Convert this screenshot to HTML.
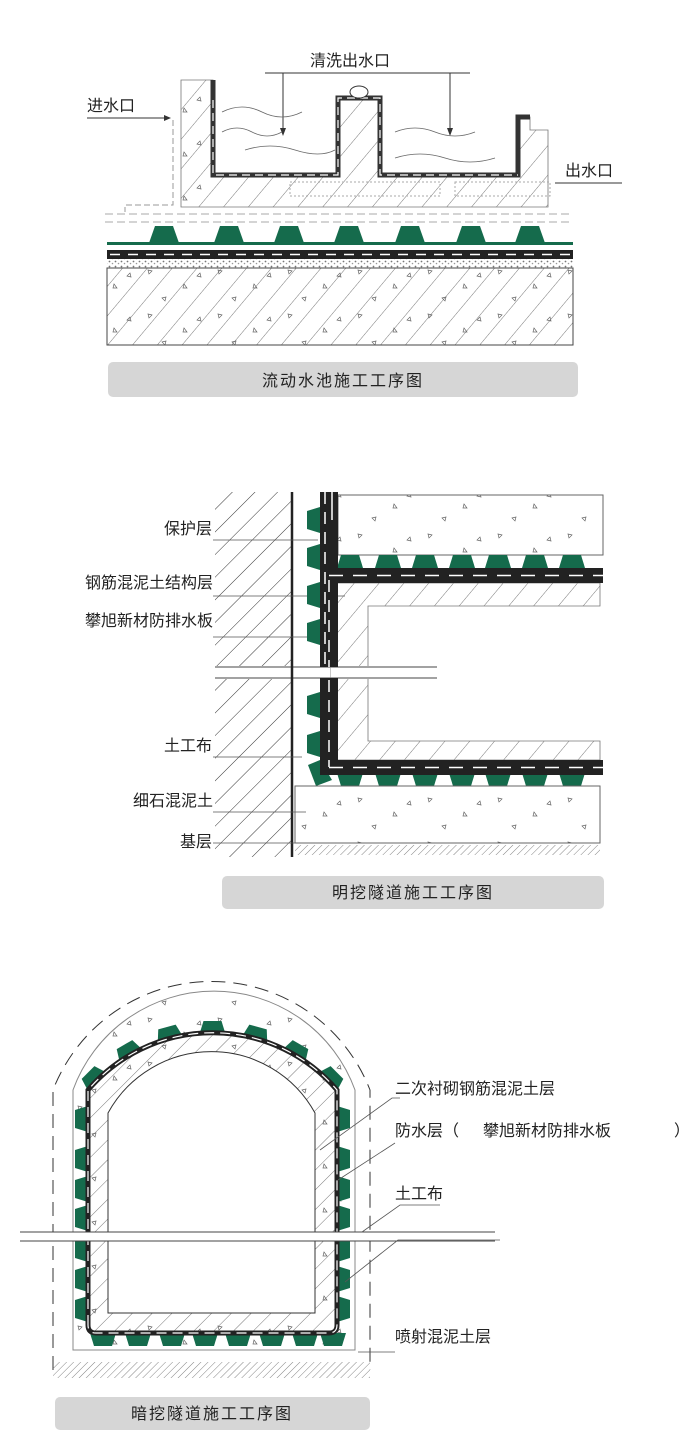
<!DOCTYPE html>
<html><head><meta charset="utf-8"><style>
html,body{margin:0;padding:0;background:#fff}
svg{display:block}
text{font-family:"Liberation Sans","Noto Sans CJK SC",sans-serif;fill:#222}
</style></head><body>
<svg width="700" height="1454" viewBox="0 0 700 1454" xmlns="http://www.w3.org/2000/svg">
<defs>
<pattern id="h" width="14" height="14" patternUnits="userSpaceOnUse" patternTransform="rotate(45)">
<line x1="0" y1="0" x2="0" y2="14" stroke="#555" stroke-width="0.8"/></pattern>
<pattern id="h2" width="19" height="19" patternUnits="userSpaceOnUse" patternTransform="rotate(40)">
<line x1="0" y1="0" x2="0" y2="19" stroke="#555" stroke-width="0.8"/></pattern>
<pattern id="hd" width="5" height="5" patternUnits="userSpaceOnUse" patternTransform="rotate(45)">
<line x1="0" y1="0" x2="0" y2="5" stroke="#666" stroke-width="0.8"/></pattern>
<pattern id="hw" width="16" height="16" patternUnits="userSpaceOnUse" patternTransform="rotate(45)">
<line x1="0" y1="0" x2="0" y2="16" stroke="#333" stroke-width="1"/></pattern>
<pattern id="tri" width="70" height="44" patternUnits="userSpaceOnUse">
<path d="M8 6l4 1-3 3zM44 20l3 4-4 0zM22 34l4-1-1 4zM60 9l-3 3 4 1z" fill="none" stroke="#666" stroke-width="0.7"/></pattern>
<pattern id="grav" width="6" height="5" patternUnits="userSpaceOnUse">
<circle cx="1.5" cy="1.5" r="0.9" fill="#777"/><circle cx="4.5" cy="3.5" r="0.8" fill="#999"/></pattern>
<g id="bu"><polygon points="-15,0 -9,-17 9,-17 15,0" fill="#156b4c"/></g>
<g id="bs"><polygon points="-13,0 -9,-13 9,-13 13,0" fill="#156b4c"/></g>
</defs>

<!-- ===== Diagram 1 ===== -->
<text x="310" y="66" font-size="16">清洗出水口</text>
<line x1="265" y1="73" x2="470" y2="73" stroke="#333"/>
<line x1="283" y1="73" x2="283" y2="130" stroke="#333"/><polygon points="280,128 286,128 283,136" fill="#333"/>
<line x1="450" y1="73" x2="450" y2="130" stroke="#333"/><polygon points="447,128 453,128 450,136" fill="#333"/>
<text x="87" y="111" font-size="16">进水口</text>
<line x1="87" y1="118" x2="166" y2="118" stroke="#333"/><polygon points="164,115 171,118 164,121" fill="#333"/>
<text x="565" y="176" font-size="16">出水口</text>
<line x1="555" y1="183" x2="622" y2="183" stroke="#333"/>

<path d="M181,80 H213 V175 H338 V98 H380 V175 H518 V117 H530 V130 H548 V207 H181 Z" fill="url(#h2)" stroke="#777" stroke-width="0.8"/>
<rect x="181" y="80" width="32" height="127" fill="url(#tri)"/>
<path d="M173,120 V205 H125 V212" fill="none" stroke="#999" stroke-dasharray="6,3"/>
<rect x="290" y="182" width="150" height="14" fill="none" stroke="#aaa" stroke-dasharray="2,2"/>
<rect x="455" y="182" width="95" height="14" fill="none" stroke="#aaa" stroke-dasharray="2,2"/>
<path d="M213,80 V175 H338 V98 H380 V175 H518 V117 H530" fill="none" stroke="#333" stroke-width="5"/>
<path d="M213,100 V175 H338 V98 H380 V175 H518" fill="none" stroke="#fff" stroke-width="1.2" stroke-dasharray="8,5"/>
<ellipse cx="359" cy="92" rx="9" ry="6" fill="#fff" stroke="#333"/>
<path d="M222,112 q20,-10 40,0 t40,0 M222,132 q15,-8 30,0 t30,0 M245,150 q25,-8 50,0 t40,0 M395,132 q20,-8 40,0 t40,0 M395,158 q25,-8 50,0 t50,0" fill="none" stroke="#666" stroke-width="0.8"/>
<line x1="105" y1="214" x2="573" y2="214" stroke="#aaa" stroke-dasharray="8,4"/>
<line x1="105" y1="222" x2="573" y2="222" stroke="#aaa" stroke-dasharray="8,4"/>
<rect x="107" y="242" width="466" height="3" fill="#156b4c"/>
<use href="#bu" x="164" y="243"/><use href="#bu" x="229" y="243"/><use href="#bu" x="289" y="243"/><use href="#bu" x="349" y="243"/><use href="#bu" x="410" y="243"/><use href="#bu" x="471" y="243"/><use href="#bu" x="530" y="243"/>
<rect x="107" y="250" width="466" height="9" fill="#222"/>
<line x1="110" y1="254.5" x2="573" y2="254.5" stroke="#fff" stroke-width="1.5" stroke-dasharray="10,8"/>
<rect x="107" y="259" width="466" height="9" fill="url(#grav)"/>
<rect x="107" y="268" width="466" height="77" fill="url(#h2)" stroke="#444"/>
<rect x="107" y="268" width="466" height="77" fill="url(#tri)"/>
<rect x="108" y="362" width="470" height="35" rx="5" fill="#d6d6d6"/>
<text x="343" y="386" font-size="16" text-anchor="middle" letter-spacing="2">流动水池施工工序图</text>

<!-- ===== Diagram 2 ===== -->
<rect x="215" y="492" width="77" height="365" fill="url(#hw)"/>
<rect x="215" y="666" width="222" height="13" fill="#fff"/>
<line x1="215" y1="667" x2="437" y2="667" stroke="#444"/><line x1="215" y1="678" x2="437" y2="678" stroke="#444"/>
<line x1="292" y1="492" x2="292" y2="857" stroke="#222" stroke-width="2.5"/>
<g font-size="16" text-anchor="end">
<text x="212" y="534">保护层</text><text x="213" y="588">钢筋混泥土结构层</text><text x="213" y="626">攀旭新材防排水板</text>
<text x="212" y="751">土工布</text><text x="213" y="806">细石混泥土</text><text x="212" y="847">基层</text></g>
<g stroke="#555" stroke-width="0.8"><line x1="213" y1="540" x2="318" y2="540"/><line x1="213" y1="596" x2="345" y2="596"/><line x1="213" y1="637" x2="310" y2="637"/><line x1="213" y1="757" x2="302" y2="757"/><line x1="213" y1="812" x2="306" y2="812"/><line x1="213" y1="843" x2="300" y2="843"/></g>
<rect x="338" y="495" width="265" height="60" fill="url(#tri)" stroke="#666"/>
<path d="M331,583 H600 V606 H368 V741 H600 V760 H331 Z" fill="url(#h2)" stroke="#777" stroke-width="0.8"/>
<rect x="331" y="666" width="110" height="13" fill="#fff"/>
<line x1="331" y1="667" x2="437" y2="667" stroke="#444"/><line x1="331" y1="678" x2="437" y2="678" stroke="#444"/>
<g transform="translate(0,568)"><use href="#bs" x="350"/><use href="#bs" x="388"/><use href="#bs" x="425"/><use href="#bs" x="462"/><use href="#bs" x="498"/><use href="#bs" x="535"/><use href="#bs" x="572"/></g>
<g transform="translate(0,773) scale(1,-1)"><use href="#bs" x="350"/><use href="#bs" x="388"/><use href="#bs" x="425"/><use href="#bs" x="462"/><use href="#bs" x="498"/><use href="#bs" x="535"/><use href="#bs" x="572"/></g>
<g transform="translate(320,0) rotate(-90)"><use href="#bs" x="-520"/><use href="#bs" x="-557"/><use href="#bs" x="-595"/><use href="#bs" x="-632"/><use href="#bs" x="-705"/><use href="#bs" x="-744"/></g>
<polygon points="308,765 320,760 332,780 316,786" fill="#156b4c"/>
<rect x="320" y="492" width="18" height="175" fill="#222"/>
<rect x="320" y="678" width="18" height="97" fill="#222"/>
<rect x="320" y="568" width="283" height="15" fill="#222"/>
<rect x="320" y="760" width="283" height="15" fill="#222"/>
<line x1="325" y1="492" x2="325" y2="667" stroke="#fff" stroke-width="1.5" stroke-dasharray="12,8"/>
<line x1="332" y1="492" x2="332" y2="520" stroke="#fff" stroke-width="1.5"/>
<line x1="329" y1="580" x2="329" y2="667" stroke="#fff" stroke-width="1.5" stroke-dasharray="12,8"/>
<line x1="329" y1="680" x2="329" y2="767" stroke="#fff" stroke-width="1.5" stroke-dasharray="12,8"/>
<line x1="329" y1="575.5" x2="603" y2="575.5" stroke="#fff" stroke-width="1.5" stroke-dasharray="14,10"/>
<line x1="329" y1="767.5" x2="603" y2="767.5" stroke="#fff" stroke-width="1.5" stroke-dasharray="14,10"/>
<rect x="295" y="786" width="305" height="57" fill="url(#tri)" stroke="#666"/>
<rect x="295" y="845" width="305" height="10" fill="url(#hd)"/>
<rect x="222" y="876" width="382" height="33" rx="5" fill="#d6d6d6"/>
<text x="413" y="898" font-size="16" text-anchor="middle" letter-spacing="2">明挖隧道施工工序图</text>

<!-- ===== Diagram 3 ===== -->
<path d="M53,1370 V1090 A170,170 0 0 1 370,1090 V1370" fill="none" stroke="#333" stroke-dasharray="14,8"/>
<path d="M73,1350 V1090 A150,150 0 0 1 355,1090 V1350 Z" fill="url(#tri)" stroke="#888"/>
<g transform="rotate(-45 212.5 1197)"><use href="#bs" x="212.5" y="1034"/></g>
<g transform="rotate(-30 212.5 1197)"><use href="#bs" x="212.5" y="1034"/></g>
<g transform="rotate(-15 212.5 1197)"><use href="#bs" x="212.5" y="1034"/></g>
<use href="#bs" x="212.5" y="1034"/>
<g transform="rotate(15 212.5 1197)"><use href="#bs" x="212.5" y="1034"/></g>
<g transform="rotate(30 212.5 1197)"><use href="#bs" x="212.5" y="1034"/></g>
<g transform="rotate(45 212.5 1197)"><use href="#bs" x="212.5" y="1034"/></g>
<g transform="translate(88,0) rotate(-90)"><use href="#bs" x="-1119"/><use href="#bs" x="-1159"/><use href="#bs" x="-1189"/><use href="#bs" x="-1218"/><use href="#bs" x="-1249"/><use href="#bs" x="-1279"/><use href="#bs" x="-1309"/></g>
<g transform="translate(337,0) rotate(90)"><use href="#bs" x="1119"/><use href="#bs" x="1159"/><use href="#bs" x="1189"/><use href="#bs" x="1218"/><use href="#bs" x="1249"/><use href="#bs" x="1279"/><use href="#bs" x="1309"/></g>
<g transform="translate(0,1333) scale(1,-1)"><use href="#bs" x="103"/><use href="#bs" x="138"/><use href="#bs" x="172"/><use href="#bs" x="205"/><use href="#bs" x="238"/><use href="#bs" x="272"/><use href="#bs" x="305"/><use href="#bs" x="333"/></g>
<path d="M88,1333 V1090 A164,164 0 0 1 337,1090 V1333 Z" fill="url(#h)" stroke="none"/>
<path d="M108,1313 V1113 A118,118 0 0 1 315,1113 V1313 Z" fill="#fff" stroke="#333"/>
<path d="M88,1325 V1090 A164,164 0 0 1 337,1090 V1325 Q337,1333 329,1333 H96 Q88,1333 88,1325 Z" fill="none" stroke="#222" stroke-width="5"/>
<path d="M88,1325 V1090 A164,164 0 0 1 337,1090 V1325 Q337,1333 329,1333 H96 Q88,1333 88,1325 Z" fill="none" stroke="#fff" stroke-width="1.2" stroke-dasharray="10,6"/>
<rect x="15" y="1232" width="485" height="9" fill="#fff"/>
<line x1="20" y1="1232" x2="495" y2="1232" stroke="#444"/><line x1="20" y1="1241" x2="495" y2="1241" stroke="#444"/>
<rect x="53" y="1362" width="317" height="16" fill="url(#hd)"/>
<g font-size="16"><text x="395" y="1094">二次衬砌钢筋混泥土层</text><text x="395" y="1136">防水层（</text><text x="483" y="1136">攀旭新材防排水板</text><text x="674" y="1136">）</text>
<text x="395" y="1199">土工布</text><text x="395" y="1342">喷射混泥土层</text></g>
<g stroke="#555" stroke-width="0.8" fill="none">
<path d="M320,1150 L392,1098 H400"/><path d="M338,1180 L395,1143"/><path d="M362,1232 L400,1205 H440"/><path d="M345,1282 L398,1240 H500"/><path d="M358,1352 H395"/></g>
<rect x="55" y="1397" width="315" height="33" rx="5" fill="#d6d6d6"/>
<text x="212" y="1419" font-size="16" text-anchor="middle" letter-spacing="2">暗挖隧道施工工序图</text>
</svg>
</body></html>
